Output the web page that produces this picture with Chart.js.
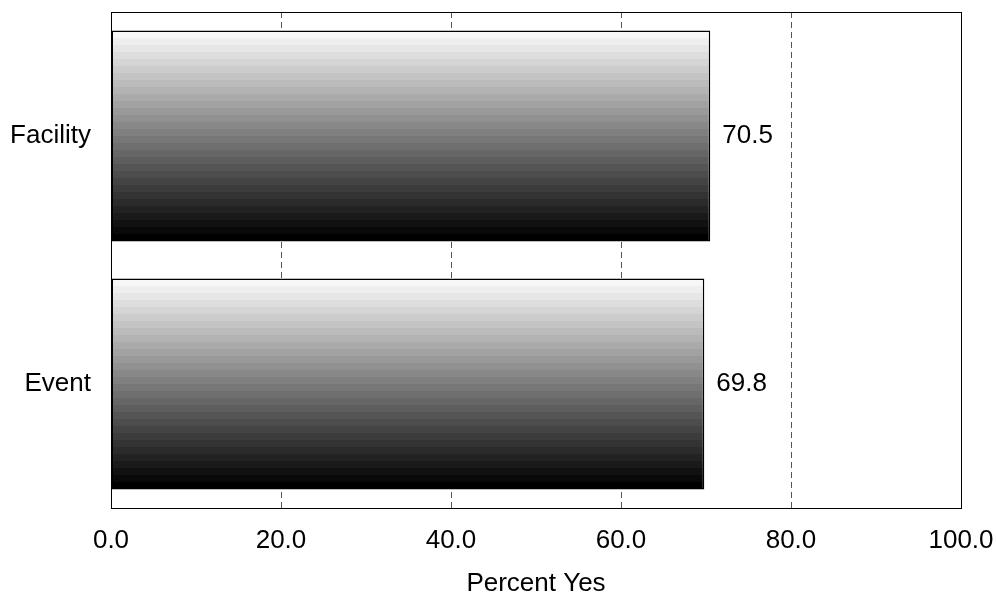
<!DOCTYPE html>
<html>
<head>
<meta charset="utf-8">
<script src="https://cdn.jsdelivr.net/npm/chart.js@4"></script>
<style>
  html, body { margin: 0; padding: 0; background: #fff; }
  #wrap { width: 996px; height: 597px; }
</style>
</head>
<body>
<div id="wrap"><canvas id="c" width="996" height="597"></canvas></div>
<script>
const categories = ['Facility', 'Event'];
const percentYes = [70.5, 69.8];
const axisTicks = [0, 20, 40, 60, 80, 100];
const axisTitle = 'Percent Yes';

const FONT = '"Liberation Sans", Arial, sans-serif';
const FONT_SIZE = 26;
const BAR_FRACTION = 0.85;
const BANDS = 30;

// Banded vertical fill: light grey at the top stepping down to black
function bandedFill(ctx, top, bottom) {
  const g = ctx.createLinearGradient(0, top, 0, bottom);
  for (let i = 0; i < BANDS; i++) {
    const v = Math.round(247 * (1 - i / (BANDS - 1)));
    const c = `rgb(${v},${v},${v})`;
    g.addColorStop(i / BANDS, c);
    g.addColorStop((i + 1) / BANDS, c);
  }
  return g;
}

// Frame around the plot area
const frame = {
  id: 'frame',
  afterDraw(chart) {
    const { ctx, chartArea: a } = chart;
    ctx.save();
    ctx.strokeStyle = '#000';
    ctx.lineWidth = 1;
    ctx.strokeRect(Math.round(a.left) + 0.5, Math.round(a.top) + 0.5,
                   Math.round(a.right - a.left), Math.round(a.bottom - a.top));
    ctx.restore();
  }
};

// Value printed just past the end of each bar
const valueLabels = {
  id: 'valueLabels',
  afterDatasetsDraw(chart) {
    const { ctx } = chart;
    const meta = chart.getDatasetMeta(0);
    ctx.save();
    ctx.font = FONT_SIZE + 'px ' + FONT;
    ctx.fillStyle = '#000';
    ctx.textAlign = 'left';
    ctx.textBaseline = 'middle';
    meta.data.forEach((bar, i) => {
      ctx.fillText(percentYes[i].toFixed(1), bar.x + 12, bar.y);
    });
    ctx.restore();
  }
};

function noEdgePadding(scale) {
  scale.paddingTop = 0;
  scale.paddingBottom = 0;
  scale.paddingLeft = 0;
  scale.paddingRight = 0;
}

new Chart(document.getElementById('c'), {
  type: 'bar',
  data: {
    labels: categories,
    datasets: [{
      data: percentYes,
      borderColor: '#000',
      borderWidth: 1.5,
      borderSkipped: false,
      barPercentage: BAR_FRACTION,
      categoryPercentage: 1,
      backgroundColor(context) {
        const chart = context.chart;
        const area = chart.chartArea;
        const ys = chart.scales.y;
        if (!area || !ys) return '#888';
        const center = ys.getPixelForValue(context.dataIndex);
        const half = (area.bottom - area.top) / categories.length * BAR_FRACTION / 2;
        return bandedFill(chart.ctx, center - half, center + half);
      }
    }]
  },
  options: {
    indexAxis: 'y',
    responsive: false,
    animation: false,
    devicePixelRatio: 1,
    layout: { autoPadding: false, padding: { left: 0, right: 35, top: 12, bottom: 0 } },
    plugins: {
      legend: { display: false },
      tooltip: { enabled: false }
    },
    scales: {
      x: {
        min: 0,
        max: 100,
        afterBuildTicks(scale) {
          scale.ticks = axisTicks.map(v => ({ value: v }));
        },
        afterFit(scale) { scale.height = 89; noEdgePadding(scale); },
        border: { display: false, dash: [6, 4] },
        grid: {
          drawTicks: false,
          color(ctx) {
            const v = ctx.tick && ctx.tick.value;
            return (v === 0 || v === 100) ? 'rgba(0,0,0,0)' : '#555';
          },
          lineWidth: 1
        },
        ticks: {
          padding: 17,
          color: '#000',
          font: { family: FONT, size: FONT_SIZE },
          callback: v => Number(v).toFixed(1)
        },
        title: {
          display: true,
          text: axisTitle,
          color: '#000',
          font: { family: FONT, size: FONT_SIZE },
          padding: { top: 4, bottom: -2 }
        }
      },
      y: {
        afterFit(scale) { scale.width = 111; noEdgePadding(scale); },
        border: { display: false },
        grid: { display: false, drawTicks: false },
        ticks: {
          padding: 20,
          color: '#000',
          font: { family: FONT, size: FONT_SIZE }
        }
      }
    }
  },
  plugins: [frame, valueLabels]
});
</script>
</body>
</html>
